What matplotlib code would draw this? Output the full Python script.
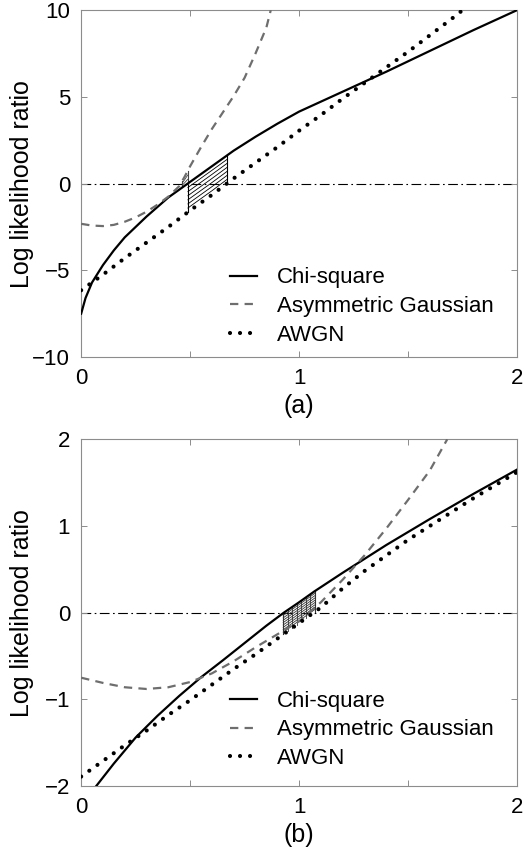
import numpy as np
import matplotlib
matplotlib.use("Agg")
import matplotlib.pyplot as plt

plt.rcParams['font.family'] = ['Liberation Sans', 'DejaVu Sans']
plt.rcParams['lines.scale_dashes'] = False

# ---------------- Panel (a) data ----------------
a_chi_x = [0.0, 0.02, 0.05, 0.1, 0.15, 0.2, 0.3, 0.4, 0.5, 0.6, 0.7, 0.8, 0.9, 1.0, 1.2, 1.4, 1.6, 1.8, 2.0]
a_chi_y = [-7.5, -6.6, -5.7, -4.7, -3.85, -3.1, -1.9, -0.8, 0.1, 1.0, 1.9, 2.7, 3.45, 4.15, 5.3, 6.45, 7.65, 8.85, 10.0]

a_awgn_x = [0.0, 0.1, 0.2, 0.3, 0.4, 0.5, 0.6, 0.7, 0.8, 0.9, 1.0, 1.1, 1.2, 1.3, 1.4, 1.5, 1.6, 1.7, 1.75]
a_awgn_y = [-6.15, -5.25, -4.3, -3.4, -2.5, -1.55, -0.65, 0.3, 1.2, 2.1, 3.05, 3.95, 4.9, 5.8, 6.7, 7.6, 8.55, 9.5, 10.0]

a_ag_x = [0.0, 0.05, 0.1, 0.15, 0.2, 0.25, 0.3, 0.35, 0.4, 0.45, 0.475, 0.5, 0.55, 0.6, 0.65, 0.7, 0.75, 0.8, 0.85, 0.87]
a_ag_y = [-2.32, -2.42, -2.45, -2.38, -2.2, -1.95, -1.62, -1.22, -0.75, -0.15, 0.4, 1.0, 2.1, 3.15, 4.1, 5.05, 6.1, 7.5, 9.0, 10.0]

a_region_x = [0.49, 0.67]      # chi-square vs AWGN thresholds
a_small_region_x = [0.464, 0.489]  # asym. Gaussian vs chi-square

a_yticks = [-10, -5, 0, 5, 10]

# ---------------- Panel (b) data ----------------
b_chi_x = [0.069, 0.15, 0.25, 0.35, 0.45, 0.55, 0.65, 0.75, 0.85, 0.93, 1.0, 1.07, 1.2, 1.4, 1.6, 1.8, 2.0]
b_chi_y = [-2.0, -1.74, -1.44, -1.19, -0.96, -0.745, -0.55, -0.35, -0.15, 0.0, 0.12, 0.245, 0.46, 0.78, 1.08, 1.37, 1.65]

b_awgn_x = [0.0, 0.1, 0.2, 0.3, 0.4, 0.5, 0.6, 0.7, 0.8, 0.9, 1.0, 1.1, 1.2, 1.3, 1.4, 1.5, 1.6, 1.7, 1.8, 1.9, 2.0]
b_awgn_y = [-1.89, -1.71, -1.53, -1.36, -1.18, -1.01, -0.83, -0.65, -0.48, -0.30, -0.12, 0.06, 0.28, 0.48, 0.66, 0.84, 1.0, 1.16, 1.32, 1.47, 1.62]

b_ag_x = [0.0, 0.1, 0.2, 0.3, 0.4, 0.5, 0.6, 0.7, 0.8, 0.9, 1.0, 1.1, 1.2, 1.3, 1.4, 1.5, 1.6, 1.68]
b_ag_y = [-0.75, -0.81, -0.86, -0.88, -0.86, -0.80, -0.70, -0.56, -0.40, -0.25, -0.10, 0.12, 0.38, 0.66, 0.97, 1.30, 1.64, 2.0]

b_region_x = [0.927, 1.073]

b_yticks = [-2, -1, 0, 1, 2]

x_ticks = [0, 0.5, 1, 1.5, 2]
x_ticklabels = ['0', '', '1', '', '2']
labels = ['Chi-square', 'Asymmetric Gaussian', 'AWGN']
panel_labels = ['(a)', '(b)']
ylabel = 'Log likelihood ratio'

FS_TICK = 16
FS_LAB = 18
FS_LEG = 16
AG_COLOR = '#6e6e6e'
SPINE = '#8c8c8c'


def hatch_region(ax, xr, lo_x, lo_y, hi_x, hi_y, n_slant, n_vert=0, color='black'):
    xs = np.linspace(xr[0], xr[1], 30)
    lo = np.interp(xs, lo_x, lo_y)
    hi = np.interp(xs, hi_x, hi_y)
    for xe in xr:
        ax.plot([xe, xe], [np.interp(xe, lo_x, lo_y), np.interp(xe, hi_x, hi_y)],
                color=color, lw=0.8, zorder=2)
    for f in np.linspace(0, 1, n_slant + 2)[1:-1]:
        ax.plot(xs, lo + f * (hi - lo), color=color, lw=0.6, zorder=2)
    if n_vert:
        for xv in np.linspace(xr[0], xr[1], n_vert + 2)[1:-1]:
            ax.plot([xv, xv], [np.interp(xv, lo_x, lo_y), np.interp(xv, hi_x, hi_y)],
                    color=color, lw=0.6, zorder=2)


def style_axes(ax, ylim, yticks):
    ax.set_xlim(0, 2)
    ax.set_ylim(*ylim)
    ax.set_xticks(x_ticks)
    ax.set_xticklabels(x_ticklabels)
    ax.set_yticks(yticks)
    ax.set_yticklabels([('\u2212' + str(abs(t))) if t < 0 else str(t) for t in yticks])
    ax.tick_params(direction='in', length=4, width=0.7, color=SPINE,
                   top=True, right=True, labelsize=FS_TICK)
    ax.tick_params(axis='y', pad=8)
    ax.tick_params(axis='x', pad=8)
    for s in ax.spines.values():
        s.set_color(SPINE)
        s.set_linewidth(0.8)
    ax.set_ylabel(ylabel, fontsize=FS_LAB)
    ax.yaxis.set_label_coords(-0.108, 0.5)
    ax.axhline(0, color='black', lw=0.8, linestyle=(0, (7, 2.5, 1.2, 2.5)), zorder=1)


fig = plt.figure(figsize=(5.27, 8.48), dpi=100)
axa = fig.add_axes([0.154, 0.579, 0.827, 0.409])
axb = fig.add_axes([0.154, 0.073, 0.827, 0.409])

for ax, chi_x, chi_y, ag_x, ag_y, aw_x, aw_y, ylim, yt, plab, legy in [
        (axa, a_chi_x, a_chi_y, a_ag_x, a_ag_y, a_awgn_x, a_awgn_y, (-10, 10), a_yticks, panel_labels[0], 0.145),
        (axb, b_chi_x, b_chi_y, b_ag_x, b_ag_y, b_awgn_x, b_awgn_y, (-2, 2), b_yticks, panel_labels[1], 0.162)]:
    style_axes(ax, ylim, yt)
    ax.plot(chi_x, chi_y, color='black', lw=1.6, label=labels[0], zorder=3)
    ax.plot(ag_x, ag_y, color=AG_COLOR, lw=1.6, linestyle=(0, (6, 4.5)), label=labels[1], zorder=3)
    ax.plot(aw_x, aw_y, color='black', lw=3.0, linestyle=(0, (0.01, 7.2)),
            dash_capstyle='round', label=labels[2], zorder=3)
    ax.legend(loc='center left', bbox_to_anchor=(0.342, legy), frameon=False,
              fontsize=FS_LEG, handlelength=1.2, handletextpad=0.9, labelspacing=0.35,
              borderaxespad=0, borderpad=0)
    ax.text(0.5, -0.142, plab, transform=ax.transAxes, ha='center', va='center', fontsize=FS_LAB)

hatch_region(axa, a_region_x, a_awgn_x, a_awgn_y, a_chi_x, a_chi_y, n_slant=6)
hatch_region(axa, a_small_region_x, a_chi_x, a_chi_y, a_ag_x, a_ag_y, n_slant=2, color='#444444')
hatch_region(axb, b_region_x, b_awgn_x, b_awgn_y, b_chi_x, b_chi_y, n_slant=8, n_vert=6, color='#333333')

fig.savefig('out.png', dpi=100)
